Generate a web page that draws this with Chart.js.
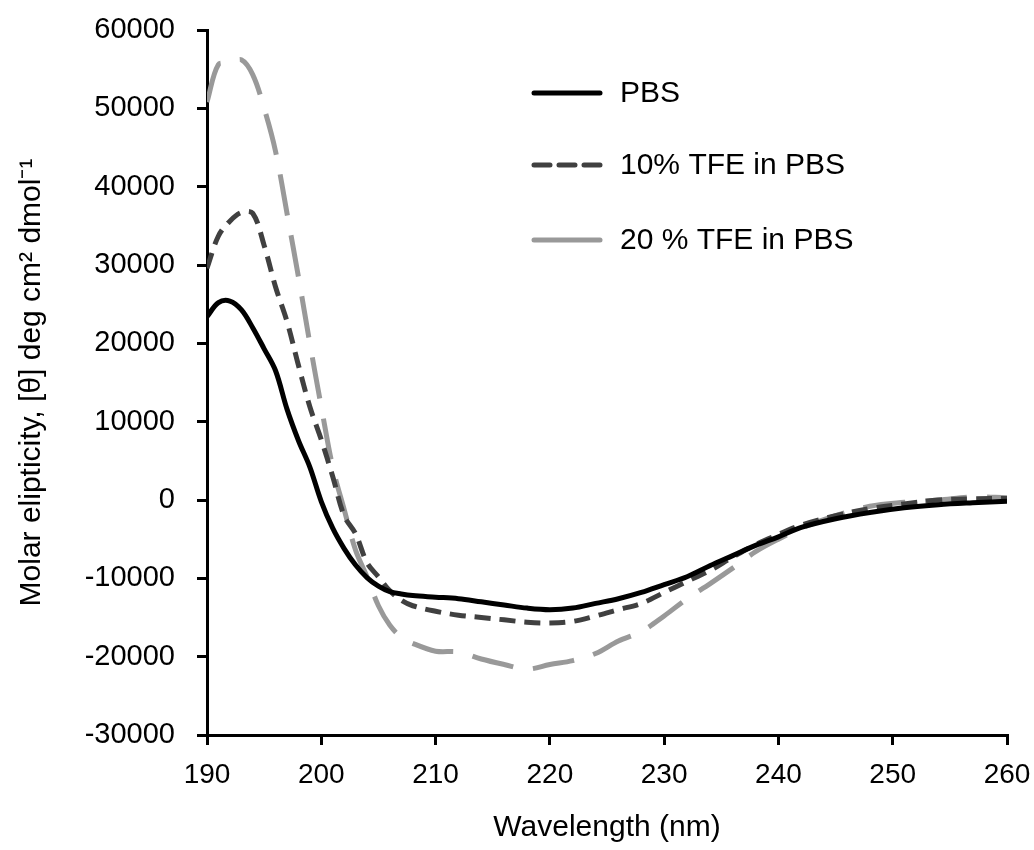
<!DOCTYPE html>
<html>
<head>
<meta charset="utf-8">
<script src="https://cdn.jsdelivr.net/npm/chart.js@4.4.1/dist/chart.umd.min.js"></script>
<style>
  html, body { margin: 0; padding: 0; background: #fff; }
  #wrap { width: 1034px; height: 850px; }
</style>
</head>
<body>
<div id="wrap"><canvas id="cd"></canvas></div>
<script>
const wavelengths = [190, 191, 192, 193, 194, 195, 196, 197, 198, 199, 200, 201, 202, 203, 204, 205, 206, 207, 208,
  210, 212, 214, 216, 218, 220, 222, 224, 226, 228, 230, 232, 234, 236, 238, 240, 242, 245, 248, 251, 254, 257, 260];

const pbs = [23400, 25200, 25400, 24300, 22000, 19300, 16500, 11600, 7600, 4200, -200, -3600, -6200, -8300, -9900, -11000, -11700, -12000, -12200,
  -12400, -12600, -13000, -13400, -13800, -14000, -13800, -13200, -12600, -11800, -10800, -9800, -8400, -7100, -5800, -4700, -3500, -2400, -1600, -1000, -600, -350, -150];

const tfe10 = [29600, 33700, 35600, 36700, 36600, 32500, 27200, 22800, 17200, 11900, 7700, 3000, -2000, -4300, -8000, -9800, -11600, -12800, -13500,
  -14200, -14700, -15000, -15300, -15600, -15700, -15500, -14800, -14000, -13200, -11800, -10400, -9000, -7300, -5700, -4400, -3200, -2000, -1100, -500, 0, 150, 200];

const tfe20 = [50800, 55600, 55700, 56200, 54300, 50000, 44500, 36600, 28500, 20000, 11900, 4200, -1200, -6400, -9800, -13500, -16000, -17500, -18300,
  -19300, -19400, -20300, -21000, -21600, -21000, -20500, -19600, -18000, -16800, -14800, -12600, -10700, -8700, -6600, -5000, -3600, -2000, -800, -300, 0, 400, 300];

const seriesNames = ["PBS", "10% TFE in PBS", "20 % TFE in PBS"];

function toPoints(vals) {
  return wavelengths.map((w, i) => ({ x: w, y: vals[i] }));
}

// legend drawn inside the plot, top right
const legendBox = {
  id: "legendBox",
  afterDraw(chart) {
    const c = chart.ctx;
    const rows = [93, 165, 240];
    const legendDash = [[], [16, 9], []];
    chart.data.datasets.forEach((ds, i) => {
      c.save();
      c.strokeStyle = ds.borderColor;
      c.lineWidth = 5;
      c.lineCap = "round";
      c.setLineDash(legendDash[i]);
      c.beginPath();
      c.moveTo(534, rows[i]);
      c.lineTo(600, rows[i]);
      c.stroke();
      c.restore();
      c.save();
      c.fillStyle = "#000";
      c.font = "30px 'Liberation Sans', Arial, sans-serif";
      c.textBaseline = "middle";
      c.fillText(ds.label, 620, rows[i] + 1);
      c.restore();
    });
  }
};

const ctx = document.getElementById("cd");
new Chart(ctx, {
  type: "line",
  data: {
    datasets: [
      {
        label: seriesNames[0],
        data: toPoints(pbs),
        borderColor: "#000000",
        borderWidth: 5,
        pointRadius: 0,
        tension: 0.35,
      },
      {
        label: seriesNames[1],
        data: toPoints(tfe10),
        borderColor: "#404040",
        borderWidth: 5,
        borderDash: [16, 9],
        pointRadius: 0,
        tension: 0.35,
      },
      {
        label: seriesNames[2],
        data: toPoints(tfe20),
        borderColor: "#999999",
        borderWidth: 5,
        borderDash: [42, 20],
        pointRadius: 0,
        tension: 0.35,
      },
    ],
  },
  options: {
    responsive: true,
    maintainAspectRatio: false,
    animation: false,
    layout: { padding: { left: 10, right: 27, top: 30, bottom: 0 } },
    plugins: {
      legend: { display: false },
      tooltip: { enabled: false },
    },
    scales: {
      x: {
        type: "linear",
        min: 190,
        max: 260,
        border: { color: "#000", width: 3 },
        grid: { drawOnChartArea: false, drawTicks: true, tickLength: 10, color: "#000", lineWidth: 3 },
        ticks: {
          stepSize: 10,
          padding: 13,
          color: "#000",
          font: { family: "'Liberation Sans', Arial", size: 28 },
          callback: (v) => String(v),
        },
        title: {
          display: true,
          text: "Wavelength (nm)",
          color: "#000",
          padding: { top: 12 },
          font: { family: "'Liberation Sans', Arial", size: 30 },
        },
        afterFit(scale) {
          scale.height = 115;
          scale.paddingLeft = 0;
          scale.paddingRight = 0;
        },
      },
      y: {
        min: -30000,
        max: 60000,
        border: { color: "#000", width: 3 },
        grid: { drawOnChartArea: false, drawTicks: true, tickLength: 10, color: "#000", lineWidth: 3 },
        ticks: {
          stepSize: 10000,
          padding: 22,
          color: "#000",
          font: { family: "'Liberation Sans', Arial", size: 29 },
          callback: (v) => String(v),
        },
        title: {
          display: true,
          text: "Molar elipticity, [θ] deg cm² dmol⁻¹",
          color: "#000",
          padding: { bottom: 0 },
          font: { family: "'Liberation Sans', Arial", size: 30 },
        },
        afterFit(scale) {
          scale.width = 197;
          scale.paddingTop = 0;
          scale.paddingBottom = 0;
        },
      },
    },
  },
  plugins: [legendBox],
});
</script>
</body>
</html>
